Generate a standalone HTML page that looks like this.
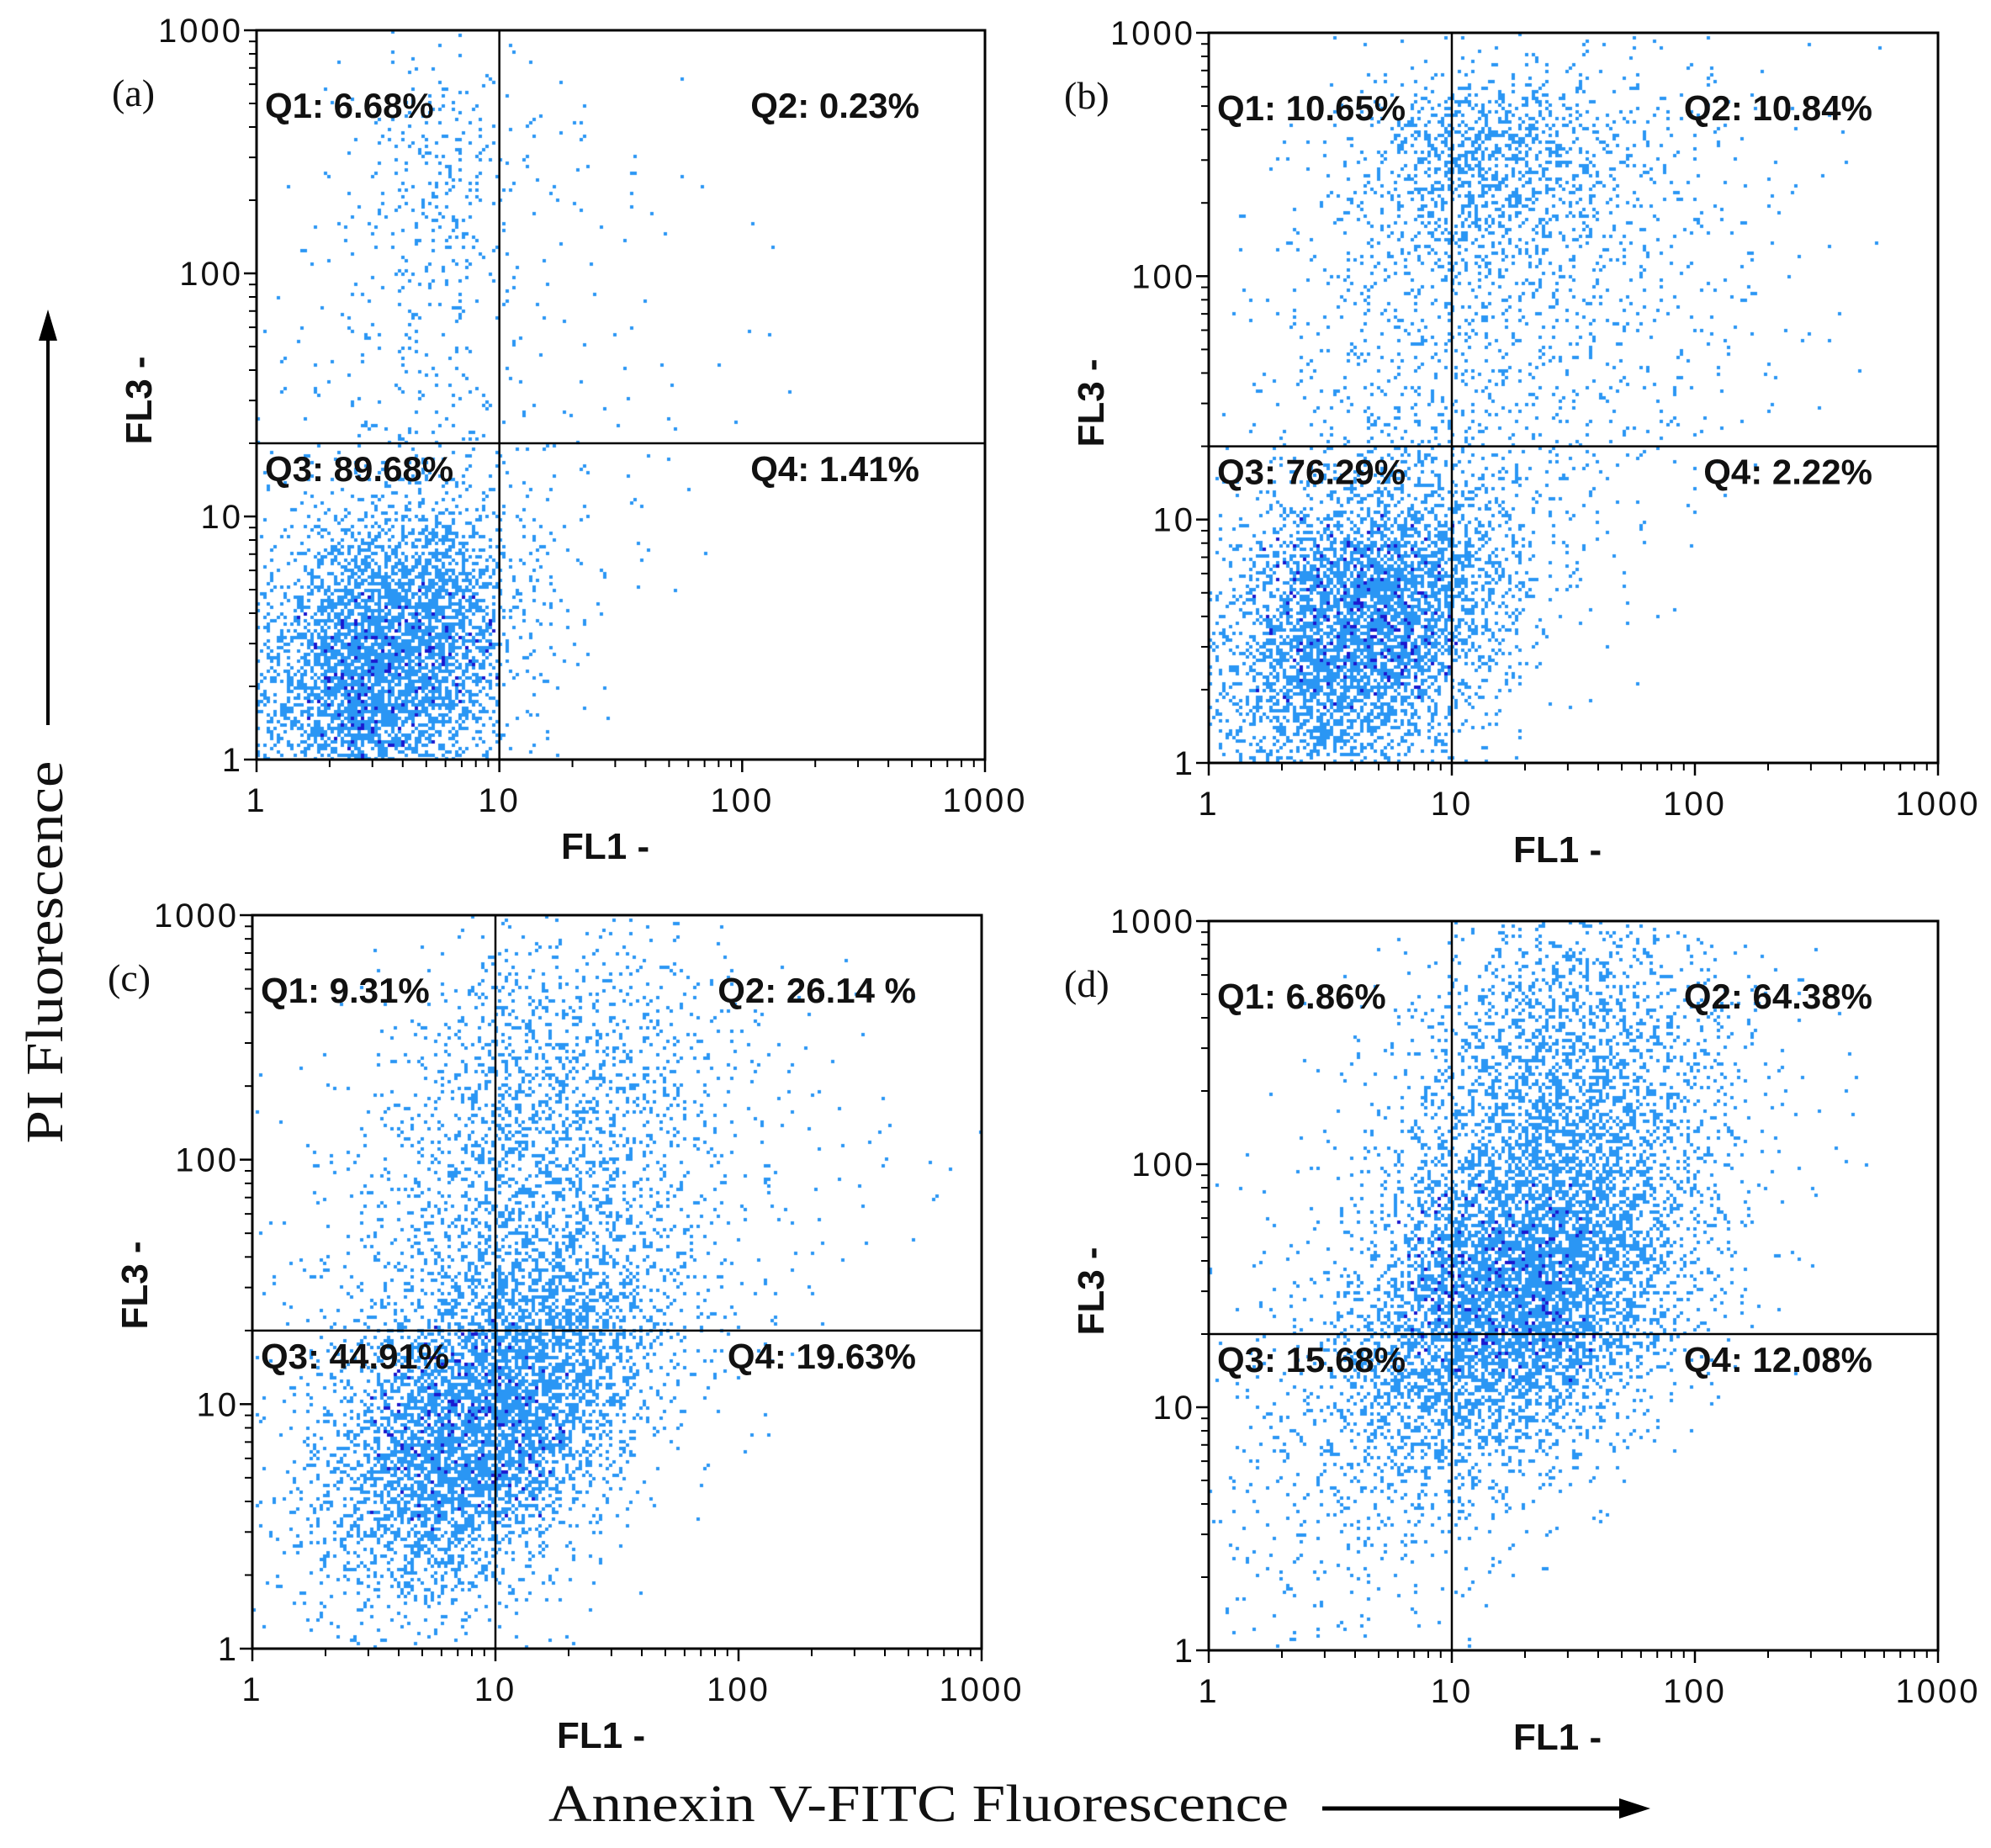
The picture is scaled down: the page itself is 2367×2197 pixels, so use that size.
<!DOCTYPE html>
<html><head><meta charset="utf-8">
<style>
html,body{margin:0;padding:0;background:#fff;}
#root{position:relative;width:2367px;height:2197px;overflow:hidden;background:#fff;}
svg{position:absolute;left:0;top:0;}
canvas{position:absolute;}
.tick{font-family:"Liberation Sans",sans-serif;font-size:40px;letter-spacing:3px;fill:#111;}
.q{font-family:"Liberation Sans",sans-serif;font-size:42px;font-weight:bold;fill:#111;}
.ax{font-family:"Liberation Sans",sans-serif;font-size:44px;font-weight:bold;fill:#111;}
.pl{font-family:"Liberation Serif",serif;font-size:46px;fill:#111;}
.big{font-family:"Liberation Serif",serif;font-size:62px;fill:#111;}
</style></head>
<body>
<div id="root">
<svg id="svg" width="2367" height="2197"></svg>
</div>
<script>
// Axis decades (log10) and tick labels
const tickValues = [1, 10, 100, 1000];
const tickLabels = ["1", "10", "100", "1000"];
const gateX = 10;   // FL1 quadrant gate
const gateY = 20;   // FL3 quadrant gate
const panelLetters = ["(a)", "(b)", "(c)", "(d)"];
const q1Labels = ["Q1: 6.68%", "Q1: 10.65%", "Q1: 9.31%", "Q1: 6.86%"];
const q2Labels = ["Q2: 0.23%", "Q2: 10.84%", "Q2: 26.14 %", "Q2: 64.38%"];
const q3Labels = ["Q3: 89.68%", "Q3: 76.29%", "Q3: 44.91%", "Q3: 15.68%"];
const q4Labels = ["Q4: 1.41%", "Q4: 2.22%", "Q4: 19.63%", "Q4: 12.08%"];
// Event-density grids: rows top (FL3 500-1000) to bottom (FL3 1-2), 10 columns of 0.3 decade of FL1
const densityA = [
 [0,1,6,3,0,0,0,0,0,0],
 [0,4,30,8,3,1,0,0,0,0],
 [1,6,30,6,2,1,1,0,0,0],
 [2,6,18,4,2,1,0,0,0,0],
 [3,6,12,3,1,1,1,0,0,0],
 [3,8,14,5,2,2,1,0,0,0],
 [6,25,40,12,3,1,0,0,0,0],
 [30,150,160,30,5,1,0,0,0,0],
 [80,300,220,20,2,0,0,0,0,0],
 [100,260,120,8,1,0,0,0,0,0]];
const densityB = [
 [0,0,3,10,12,8,4,2,1,0],
 [0,3,30,110,80,30,10,3,1,0],
 [1,6,30,80,50,25,10,4,1,0],
 [2,8,20,30,25,15,8,4,1,0],
 [3,10,20,22,18,12,8,3,1,0],
 [3,10,25,25,15,10,6,2,0,0],
 [10,40,80,60,20,5,2,0,0,0],
 [30,180,260,120,15,3,0,0,0,0],
 [50,230,250,60,5,1,0,0,0,0],
 [50,130,90,15,1,0,0,0,0,0]];
const densityC = [
 [0,0,2,15,12,8,3,1,0,0],
 [0,2,10,50,40,25,8,2,1,0],
 [1,5,20,70,60,35,10,3,1,0],
 [2,8,30,70,60,30,10,4,2,2],
 [3,12,40,80,70,30,8,3,1,0],
 [4,15,60,160,150,40,8,2,0,0],
 [6,40,180,260,130,20,3,0,0,0],
 [8,80,260,220,50,5,1,0,0,0],
 [10,60,120,50,8,0,0,0,0,0],
 [5,15,20,8,2,0,0,0,0,0]];
const densityD = [
 [0,0,2,10,40,40,15,3,1,0],
 [0,1,6,30,90,70,35,8,1,0],
 [0,2,10,50,120,100,40,8,1,0],
 [1,3,20,90,170,120,40,6,1,0],
 [2,6,40,180,260,160,40,5,0,0],
 [3,12,80,230,280,120,20,2,0,0],
 [6,20,90,150,100,30,4,0,0,0],
 [6,20,45,40,20,4,0,0,0,0],
 [6,12,15,8,3,0,0,0,0,0],
 [8,6,5,3,0,0,0,0,0,0]];
const densities = [densityA, densityB, densityC, densityD];
const eventScale = 2.6;

const boxes = [
 {L:305,R:1171,T:36,B:903},
 {L:1437,R:2304,T:39,B:907},
 {L:300,R:1167,T:1088,B:1960},
 {L:1437,R:2304,T:1095,B:1962}];

const NS = "http://www.w3.org/2000/svg";
const svg = document.getElementById("svg");
const root = document.getElementById("root");
function mk(tag, attrs, parent){
  const e = document.createElementNS(NS, tag);
  for (const k in attrs) e.setAttribute(k, attrs[k]);
  (parent||svg).appendChild(e);
  return e;
}
function halton(i, b){let f=1,r=0;while(i>0){f/=b;r+=f*(i%b);i=Math.floor(i/b);}return r;}

boxes.forEach((bx, p) => {
  const W = bx.R - bx.L, H = bx.B - bx.T;
  const sx = v => bx.L + Math.log10(v) / 3 * W;
  const sy = v => bx.B - Math.log10(v) / 3 * H;
  const g = mk("g", {});
  
  

  // scatter canvas
  const cv = document.createElement("canvas");
  cv.width = W; cv.height = H;
  cv.style.left = bx.L + "px"; cv.style.top = bx.T + "px";
  
  
  root.insertBefore(cv, svg);
  const ctx = cv.getContext("2d");
  const grid = densities[p];
  const cw = W / 10, ch = H / 10;
  let idx = 1 + p * 7919;
  grid.forEach((row, ri) => {
    row.forEach((n0, ci) => {
      const n = Math.round(n0 * eventScale);
      const cx = sx(Math.pow(10, (ci+0.5)*0.3)) - bx.L;
      const cy = sy(Math.pow(10, (9.5-ri)*0.3)) - bx.T;
      for (let k = 0; k < n; k++) {
        const u = halton(idx, 2) + halton(idx, 5) - 1;
        const v = halton(idx, 3) + halton(idx, 7) - 1;
        const w = halton(idx, 11);
        idx++;
        let px = cx + u * cw, py = cy + v * ch;
        if (px < 0 || py < 0 || px > W || py > H) continue;
        px = Math.floor(px / 4) * 4; py = Math.floor(py / 4) * 4;
        ctx.fillStyle = (n0 > 170 && w < 0.12) ? "#1a1ad0" : "#2a96f4";
        ctx.fillRect(px, py, 4, 4);
      }
    });
  });

  // ticks
  for (let d = 0; d < 3; d++) {
    for (let m = 2; m <= 9; m++) {
      const v = m * Math.pow(10, d);
      let t = mk("line", {x1:sx(v), x2:sx(v), y1:bx.B, y2:bx.B+9, stroke:"#000","stroke-width":2}, g);
      
      
      t = mk("line", {x1:bx.L-9, x2:bx.L, y1:sy(v), y2:sy(v), stroke:"#000","stroke-width":2}, g);
      
      
    }
  }
  tickValues.forEach((v, i) => {
    let t = mk("line", {x1:sx(v), x2:sx(v), y1:bx.B, y2:bx.B+15, stroke:"#000","stroke-width":2.5}, g);
    
    
    t = mk("line", {x1:bx.L-15, x2:bx.L, y1:sy(v), y2:sy(v), stroke:"#000","stroke-width":2.5}, g);
    
    
    let tx = mk("text", {x:sx(v), y:bx.B+62, "text-anchor":"middle", class:"tick"}, g);
    tx.textContent = tickLabels[i];
    
    
    tx = mk("text", {x:bx.L-16, y:sy(v)+14, "text-anchor":"end", class:"tick"}, g);
    tx.textContent = tickLabels[i];
    
    
  });

  // frame
  const fr = mk("rect", {x:bx.L, y:bx.T, width:W, height:H, fill:"none", stroke:"#000", "stroke-width":3}, g);
  
  
  // gates
  let gl = mk("line", {x1:sx(gateX), x2:sx(gateX), y1:bx.T, y2:bx.B, stroke:"#000", "stroke-width":2.5}, g);
  
  
  gl = mk("line", {x1:bx.L, x2:bx.R, y1:sy(gateY), y2:sy(gateY), stroke:"#000", "stroke-width":2.5}, g);
  
  

  // quadrant labels
  const qy1 = bx.T + 104, qy3 = sy(gateY) + 45;
  let q = mk("text", {x:bx.L+10, y:qy1, class:"q"}, g); q.textContent = q1Labels[p];
   
  q = mk("text", {x:bx.R-78, y:qy1, "text-anchor":"end", class:"q"}, g); q.textContent = q2Labels[p];
   
  q = mk("text", {x:bx.L+10, y:qy3, class:"q"}, g); q.textContent = q3Labels[p];
   
  q = mk("text", {x:bx.R-78, y:qy3, "text-anchor":"end", class:"q"}, g); q.textContent = q4Labels[p];
   

  // panel letter
  let pl = mk("text", {x:bx.L-172, y:bx.T+90, class:"pl"}, g); pl.textContent = panelLetters[p];
   

  // axis titles
  let xt = mk("text", {x:bx.L+362, y:bx.B+118, class:"ax"}, g); xt.textContent = "FL1  -";
   
  let yt = mk("text", {x:0, y:0, class:"ax", transform:"translate(" + (bx.L-125) + "," + (bx.T+440) + ") rotate(-90)", "text-anchor":"middle"}, g);
  yt.textContent = "FL3  -";
   
});

// global labels
let bt = mk("text", {x:652, y:2165, class:"big", textLength:880, lengthAdjust:"spacingAndGlyphs"}); bt.textContent = "Annexin V-FITC  Fluorescence";
 
let ba = mk("line", {x1:1572, x2:1940, y1:2150, y2:2150, stroke:"#000", "stroke-width":5});
 
ba = mk("polygon", {points:"1962,2150 1925,2138 1925,2162", fill:"#000"});
 
let lt = mk("text", {x:0, y:0, class:"big", transform:"translate(74,1132) rotate(-90)", "text-anchor":"middle", textLength:455, lengthAdjust:"spacingAndGlyphs"}); lt.textContent = "PI Fluorescence";
 
let la = mk("line", {x1:57, x2:57, y1:862, y2:395, stroke:"#000", "stroke-width":4});
 
la = mk("polygon", {points:"57,368 46,405 68,405", fill:"#000"});
 
</script>
</body></html>
